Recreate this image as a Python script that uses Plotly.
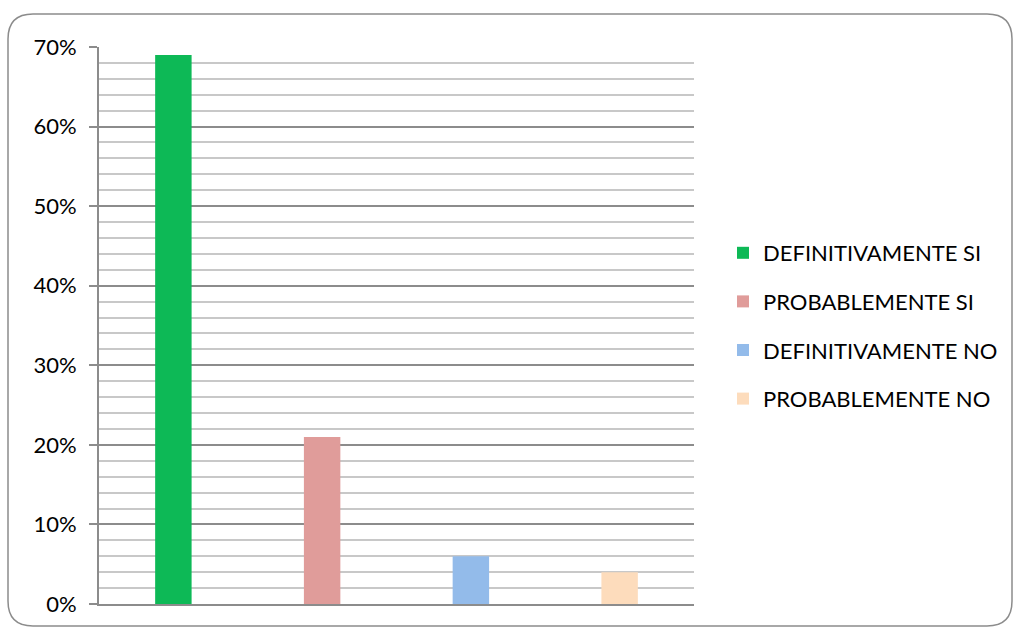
import plotly.graph_objects as go

categories = ["DEFINITIVAMENTE SI", "PROBABLEMENTE SI", "DEFINITIVAMENTE NO", "PROBABLEMENTE NO"]
values = [0.69, 0.21, 0.06, 0.04]
colors = ["#0db956", "#e09c9a", "#93bbea", "#fddcbc"]

W, H = 1019, 632
L, R, T, B = 99, 694, 47, 604

fig = go.Figure()
for i, (c, v, col) in enumerate(zip(categories, values, colors)):
    fig.add_trace(go.Bar(x=[i], y=[v], name=c, marker=dict(color=col, line=dict(width=0)),
                         width=0.245, legendgroup=c))

def px(x):
    return (x - L) / (R - L)

def py(y):
    return (B - y) / (B - T)

x0, x1, y0, y1 = 8, 1012, 14, 626
r = 25
path = (f"M {px(x0+r)},{py(y0)} L {px(x1-r)},{py(y0)} Q {px(x1)},{py(y0)} {px(x1)},{py(y0+r)} "
        f"L {px(x1)},{py(y1-r)} Q {px(x1)},{py(y1)} {px(x1-r)},{py(y1)} "
        f"L {px(x0+r)},{py(y1)} Q {px(x0)},{py(y1)} {px(x0)},{py(y1-r)} "
        f"L {px(x0)},{py(y0+r)} Q {px(x0)},{py(y0)} {px(x0+r)},{py(y0)} Z")
fig.add_shape(type="path", path=path, xref="paper", yref="paper",
              line=dict(color="#8c8c8c", width=1.5), layer="below")

fig.update_layout(
    width=W, height=H,
    margin=dict(l=L, r=W - R, t=T, b=H - B),
    paper_bgcolor="white", plot_bgcolor="white",
    barmode="overlay",
    font=dict(family="Lato, 'Open Sans', sans-serif", color="#000000"),
    showlegend=True,
    legend=dict(x=(723 - L) / (R - L), y=py(326), xanchor="left", yanchor="middle",
                font=dict(size=22), tracegroupgap=17, itemwidth=30),
    xaxis=dict(range=[-0.5, 3.5], showticklabels=False, ticks="", showgrid=False,
               showline=True, linecolor="#8c8c8c", linewidth=2, zeroline=False),
    yaxis=dict(range=[0, 0.70], dtick=0.1, tickformat=".0%", tickfont=dict(size=22),
               showgrid=True, gridcolor="#8c8c8c", gridwidth=1.5,
               ticks="outside", ticklen=8, tickcolor="#8c8c8c", tickwidth=1.5,
               showline=True, linecolor="#8c8c8c", linewidth=2, zeroline=False,
               minor=dict(dtick=0.02, showgrid=True, gridcolor="#c8c8c8", gridwidth=2, ticks=""),
               ticklabelstandoff=8),
)

fig.write_html("out.html")
